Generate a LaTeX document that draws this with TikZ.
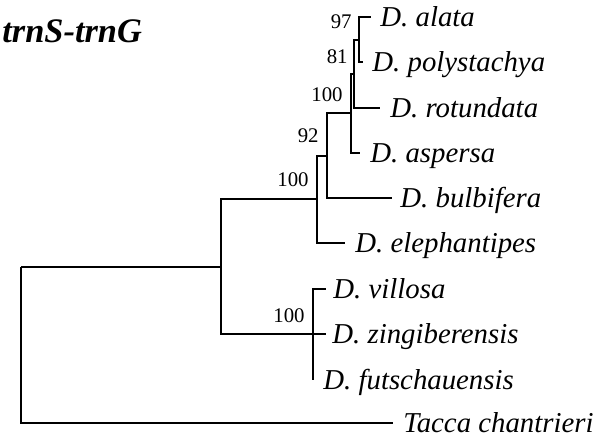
\documentclass[tikz,border=0pt]{standalone}
\usepackage{fontspec}
\setmainfont{Liberation Serif}
\begin{document}
\begin{tikzpicture}[x=0.5pt,y=-0.5pt,
  branch/.style={draw=black, line width=1pt, line join=miter},
  taxon/.style={font=\fontsize{14.4}{16}\selectfont\itshape, inner sep=0pt, anchor=base west},
  boot/.style={font=\fontsize{10.4}{12}\selectfont, inner sep=0pt, anchor=base east},
  title/.style={font=\fontsize{17.2}{19}\selectfont\bfseries\itshape, inner sep=0pt, anchor=base west}]
\useasboundingbox (0,0) rectangle (615,439);

% internal nodes
\coordinate (nA) at (359,39.5);
\coordinate (nB) at (354,73.75);
\coordinate (nC) at (351,113.4);
\coordinate (nD) at (327,155.7);
\coordinate (nE) at (317,199.3);
\coordinate (nG) at (313,334);
\coordinate (nF) at (221,266.7);
\coordinate (nR) at (21,266.7);

% tips
\coordinate (tAlata) at (371,17);
\coordinate (tPoly) at (363,62);
\coordinate (tRot) at (380,108);
\coordinate (tAsp) at (360,153);
\coordinate (tBulb) at (392,198);
\coordinate (tEleph) at (345,243);
\coordinate (tVill) at (326,289);
\coordinate (tZing) at (326,334);
\coordinate (tFuts) at (313,380);
\coordinate (tTacca) at (393,423);

% branches
\draw[branch] (nA) |- (tAlata);
\draw[branch] (nA) |- (tPoly);
\draw[branch] (nB) |- (nA);
\draw[branch] (nB) |- (tRot);
\draw[branch] (nC) |- (nB);
\draw[branch] (nC) |- (tAsp);
\draw[branch] (nD) |- (nC);
\draw[branch] (nD) |- (tBulb);
\draw[branch] (nE) |- (nD);
\draw[branch] (nE) |- (tEleph);
\draw[branch] (nF) |- (nE);
\draw[branch] (nF) |- (nG);
\draw[branch] (nG) |- (tVill);
\draw[branch] (nG) -- (tZing);
\draw[branch] (nG) |- (tFuts);
\draw[branch] (nR) -- (nF);
\draw[branch] (nR) |- (tTacca);

% taxon labels
\node[taxon] (lAlata) at (380,26.5) {D. alata};
\node[taxon] (lPoly) at (372,71.5) {D. polystachya};
\node[taxon] (lRot) at (390,117.5) {D. rotundata};
\node[taxon] (lAsp) at (370,162.5) {D. aspersa};
\node[taxon] (lBulb) at (400,207.5) {D. bulbifera};
\node[taxon] (lEleph) at (355,252.5) {D. elephantipes};
\node[taxon] (lVill) at (333,298.5) {D. villosa};
\node[taxon] (lZing) at (332,343.5) {D. zingiberensis};
\node[taxon] (lFuts) at (323,389.5) {D. futschauensis};
\node[taxon] (lTacca) at (403,432.5) {Tacca chantrieri};

% bootstrap values
\node[boot] (bA) at (352,28.3) {97};
\node[boot] (bB) at (348,63.3) {81};
\node[boot] (bC) at (343,101.8) {100};
\node[boot] (bD) at (319,142.8) {92};
\node[boot] (bE) at (309,186.8) {100};
\node[boot] (bG) at (305,322.3) {100};

% title
\node[title] (ttl) at (2,42) {trnS-trnG};
\end{tikzpicture}
\end{document}
